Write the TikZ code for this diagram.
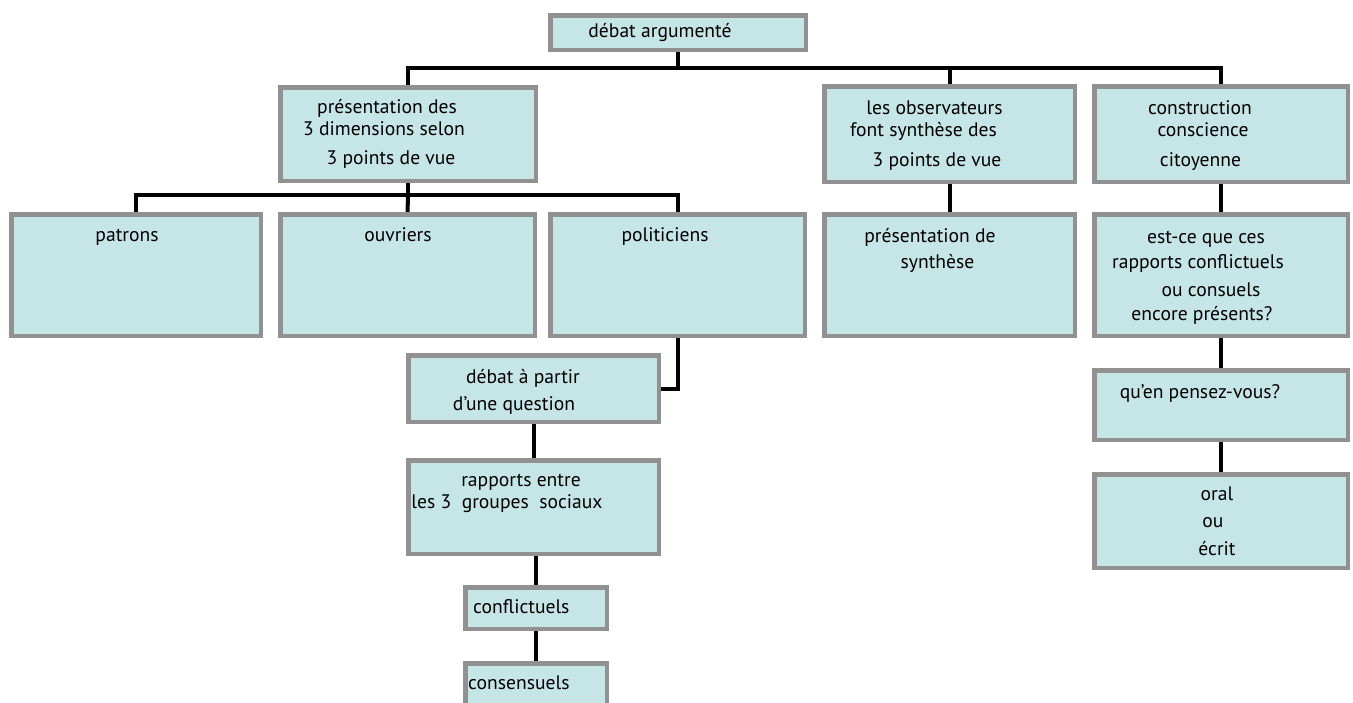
\documentclass[tikz,border=0pt]{standalone}
\usepackage{fontspec}
\setmainfont{PT Sans}
\usetikzlibrary{backgrounds}
\definecolor{boxfill}{RGB}{197,229,231}
\definecolor{boxline}{RGB}{145,145,145}
\begin{document}
\begin{tikzpicture}[x=1pt,y=-1pt,
  box/.style={draw=boxline, line width=4.5pt, fill=boxfill, inner sep=0pt, outer sep=0pt},
  txt/.style={font=\fontsize{19.6}{22}\selectfont, inner sep=0pt, anchor=base},
  txtl/.style={txt, anchor=base west},
  conn/.style={line width=4pt, black}]
\useasboundingbox (0,0) rectangle (1353,702);
\clip (0,0) rectangle (1353,702);
% boxes
\node[box, minimum width=255.5pt, minimum height=34.5pt] (top) at (678,32.5) {};
\node[box, minimum width=255.5pt, minimum height=93.5pt] (pres) at (408,134) {};
\node[box, minimum width=250.5pt, minimum height=95.5pt] (obs) at (949.5,134) {};
\node[box, minimum width=253.5pt, minimum height=95.5pt] (cons) at (1221,134) {};
\node[box, minimum width=249.5pt, minimum height=121.5pt] (patrons) at (136,275) {};
\node[box, minimum width=254.5pt, minimum height=121.5pt] (ouv) at (407.5,275) {};
\node[box, minimum width=254.5pt, minimum height=121.5pt] (pol) at (677.5,275) {};
\node[box, minimum width=250.5pt, minimum height=121.5pt] (synth) at (949.5,275) {};
\node[box, minimum width=253.5pt, minimum height=121.5pt] (estce) at (1221,275) {};
\node[box, minimum width=253.5pt, minimum height=69.5pt] (quen) at (1221,405) {};
\node[box, minimum width=253.5pt, minimum height=93.5pt] (oral) at (1221,521) {};
\node[box, minimum width=250.5pt, minimum height=66.5pt] (dap) at (533.5,388.5) {};
\node[box, minimum width=250.5pt, minimum height=93.5pt] (rap) at (533.5,507) {};
\node[box, minimum width=141.5pt, minimum height=41.5pt] (confl) at (536,608) {};
\node[box, minimum width=141.5pt, minimum height=75.5pt] (consen) at (536,701) {};
% connectors
\begin{pgfonlayer}{background}
\coordinate (bus1) at (678,68);
\coordinate (bus2) at (408,195);
\draw[conn] (top.south) -- (bus1);
\draw[conn] (pres.north) |- (bus1) -| (cons.north);
\draw[conn] (bus1 -| obs.north) -- (obs.north);
\draw[conn] (pres.south) -- (bus2);
\draw[conn] (patrons.north) |- (bus2) -| (pol.north);
\draw[conn] (bus2) -- (ouv.north);
\draw[conn] (obs.south) -- (synth.north);
\draw[conn] (cons.south) -- (estce.north);
\draw[conn] (estce.south) -- (quen.north);
\draw[conn] (quen.south) -- (oral.north);
\draw[conn] (pol.south) |- (dap.east);
\draw[conn] (dap.south) -- (rap.north);
\draw[conn] (rap.south -| confl.north) -- (confl.north);
\draw[conn] (confl.south) -- (consen.north);
\end{pgfonlayer}
% texts
\node[txt] (t0) at (660,37) {débat argumenté};
\node[txt] (t1) at (387,113) {présentation des};
\node[txt] (t2) at (384,135) {3 dimensions selon};
\node[txt] (t3) at (391,164) {3 points de vue};
\node[txt] (t4) at (934.5,114) {les observateurs};
\node[txt] (t5) at (923.5,136) {font synthèse des};
\node[txt] (t6) at (937,166) {3 points de vue};
\node[txt] (t7) at (1200,114) {construction};
\node[txt] (t8) at (1203,136) {conscience};
\node[txt] (t9) at (1200.5,166) {citoyenne};
\node[txt] (t10) at (127,241) {patrons};
\node[txt] (t11) at (398,241) {ouvriers};
\node[txt] (t12) at (665,241) {politiciens};
\node[txt] (t13) at (930,242) {présentation de};
\node[txt] (t14) at (937.5,268) {synthèse};
\node[txt] (t15) at (1206,243) {est-ce que ces};
\node[txt] (t16) at (1198,268) {rapports conflictuels};
\node[txt] (t17) at (1211,296) {ou consuels};
\node[txt] (t18) at (1202,320) {encore présents?};
\node[txt] (t19) at (1200,398) {qu'en pensez-vous?};
\node[txt] (t20) at (1217,500) {oral};
\node[txt] (t21) at (1213,527) {ou};
\node[txt] (t22) at (1217,555) {écrit};
\node[txt] (t23) at (523,383) {débat à partir};
\node[txt] (t24) at (514,410) {d'une question};
\node[txt] (t25) at (521,486) {rapports entre};
\node[txt] (t26) at (507,508) {les 3~~groupes~~sociaux};
\node[txtl] (t27) at (473,613) {conflictuels};
\node[txtl] (t28) at (468,689) {consensuels};
\end{tikzpicture}
\end{document}
